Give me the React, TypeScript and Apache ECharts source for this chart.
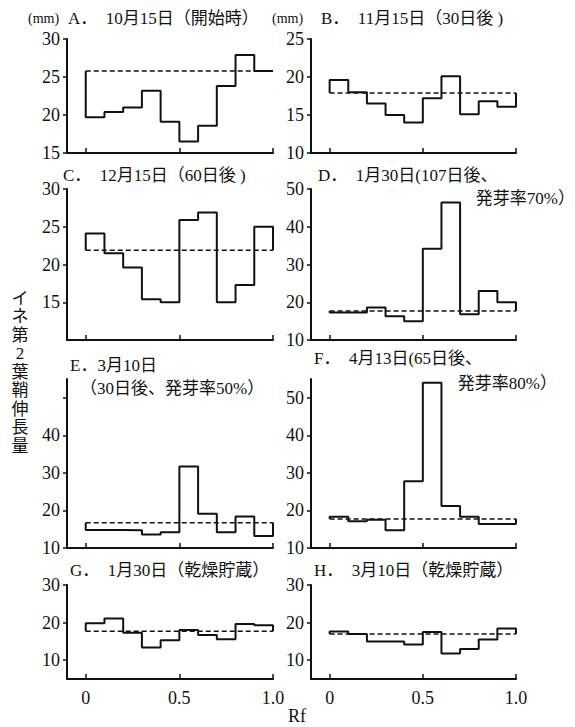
import React, { useEffect, useRef } from "react";
import * as echarts from "echarts";

// Rf bin edges (10 bins of 0.1)
const rfEdges = [0, 0.1, 0.2, 0.3, 0.4, 0.5, 0.6, 0.7, 0.8, 0.9, 1.0];
const rfTicks = [0, 0.5, 1.0];
const rfTickLabels = ["0", "0.5", "1.0"];

// Panel values (mm) per Rf bin, and control (dashed) level
const valuesA = [19.7, 20.4, 21.0, 23.2, 19.1, 16.5, 18.6, 23.8, 27.9, 25.8];
const controlA = 25.8;
const valuesB = [19.6, 18.0, 16.5, 15.0, 14.0, 17.2, 20.1, 15.1, 16.8, 16.1];
const controlB = 17.9;
const valuesC = [24.1, 21.5, 19.6, 15.4, 15.0, 25.9, 26.9, 15.0, 17.3, 25.0];
const controlC = 21.9;
const valuesD = [17.3, 17.3, 18.6, 16.3, 15.0, 34.2, 46.4, 16.8, 23.0, 20.0];
const controlD = 17.7;
const valuesE = [14.8, 14.8, 14.7, 13.6, 14.2, 31.7, 19.1, 14.2, 18.4, 13.2];
const controlE = 16.7;
const valuesF = [18.3, 17.1, 17.5, 14.7, 27.8, 54.0, 21.2, 18.3, 16.4, 16.4];
const controlF = 17.7;
const valuesG = [19.8, 21.1, 17.3, 13.4, 15.3, 18.0, 16.7, 15.6, 19.6, 19.3];
const controlG = 17.7;
const valuesH = [17.6, 17.0, 15.0, 15.0, 14.2, 17.5, 11.8, 13.0, 15.5, 18.4];
const controlH = 17.0;

// Y axis ranges, ticks and tick labels
const yRangeA = [15, 30];
const yTicksA = [15, 20, 25, 30];
const yLabelsA = [15, 20, 25, 30];
const yRangeB = [10, 25];
const yTicksB = [10, 15, 20, 25];
const yLabelsB = [10, 15, 20, 25];
const yRangeC = [10, 30];
const yTicksC = [15, 20, 25, 30];
const yLabelsC = [15, 20, 25, 30];
const yRangeD = [10, 50];
const yTicksD = [10, 20, 30, 40, 50];
const yLabelsD = [10, 20, 30, 40, 50];
const yRangeE = [10, 55];
const yTicksE = [10, 20, 30, 40, 50];
const yLabelsE = [10, 20, 30, 40];
const yRangeF = [10, 55];
const yTicksF = [10, 20, 30, 40, 50];
const yLabelsF = [10, 20, 30, 40, 50];
const yRangeG = [5, 30];
const yTicksG = [10, 20, 30];
const yLabelsG = [10, 20, 30];
const yRangeH = [5, 30];
const yTicksH = [10, 20, 30];
const yLabelsH = [10, 20, 30];

const NB = "\u00a0";
const titleA = `A．${NB}${NB}10月15日（開始時）`;
const titleB = `B．${NB}${NB}11月15日（30日後${NB})`;
const titleC = `C．${NB}${NB}12月15日（60日後${NB})`;
const titleD1 = `D．${NB}${NB}1月30日(107日後、`;
const titleD2 = "発芽率70%）";
const titleE1 = "E．3月10日";
const titleE2 = "（30日後、発芽率50%）";
const titleF1 = `F．${NB}${NB}4月13日(65日後、`;
const titleF2 = "発芽率80%）";
const titleG = `G．${NB}${NB}1月30日（乾燥貯蔵）`;
const titleH = `H．${NB}${NB}3月10日（乾燥貯蔵）`;
const unitLabel = "(mm)";
const yAxisTitle = "イネ第2葉鞘伸長量";
const xAxisTitle = "Rf";

const FONT = "Liberation Serif, Times New Roman, DejaVu Serif, Noto Sans CJK JP, serif";
const INK = "#111";

function stepPoints(values: number[], control: number) {
  const pts: number[][] = [[rfEdges[0], control]];
  values.forEach((v, i) => {
    pts.push([rfEdges[i], v]);
    pts.push([rfEdges[i + 1], v]);
  });
  pts.push([rfEdges[rfEdges.length - 1], control]);
  return pts;
}

export default function App() {
  const ref = useRef<HTMLDivElement>(null);
  useEffect(() => {
    if (!ref.current) return;
    const chart = echarts.init(ref.current, undefined, { renderer: "svg" });

    const panels = [
      { v: valuesA, c: controlA, r: yRangeA, t: yTicksA, l: yLabelsA },
      { v: valuesB, c: controlB, r: yRangeB, t: yTicksB, l: yLabelsB },
      { v: valuesC, c: controlC, r: yRangeC, t: yTicksC, l: yLabelsC },
      { v: valuesD, c: controlD, r: yRangeD, t: yTicksD, l: yLabelsD },
      { v: valuesE, c: controlE, r: yRangeE, t: yTicksE, l: yLabelsE },
      { v: valuesF, c: controlF, r: yRangeF, t: yTicksF, l: yLabelsF },
      { v: valuesG, c: controlG, r: yRangeG, t: yTicksG, l: yLabelsG },
      { v: valuesH, c: controlH, r: yRangeH, t: yTicksH, l: yLabelsH },
    ];
    const colLeft = [67, 311];
    const colWidth = [206, 205];
    const rowTop = [39, 189, 379, 585];
    const rowHeight = [114, 151, 169, 94];

    const grid: any[] = [];
    const xAxis: any[] = [];
    const yAxis: any[] = [];
    const series: any[] = [];
    panels.forEach((p, i) => {
      const col = i % 2;
      const row = Math.floor(i / 2);
      grid.push({
        left: colLeft[col],
        top: rowTop[row],
        width: colWidth[col],
        height: rowHeight[row],
        containLabel: false,
      });
      xAxis.push({
        type: "value",
        gridIndex: i,
        min: -0.1,
        max: 1.0,
        axisLine: { show: true, onZero: false, lineStyle: { color: INK, width: 2 } },
        axisTick: { show: true, inside: true, length: 5, customValues: rfTicks, lineStyle: { color: INK, width: 1.5 } },
        axisLabel: {
          show: row === 3,
          customValues: rfTicks,
          margin: 10,
          formatter: (val: number) => rfTickLabels[rfTicks.indexOf(val)] ?? "",
          fontFamily: FONT,
          fontSize: 18,
          color: INK,
        },
        splitLine: { show: false },
      });
      yAxis.push({
        type: "value",
        gridIndex: i,
        min: p.r[0],
        max: p.r[1],
        axisLine: { show: true, onZero: false, lineStyle: { color: INK, width: 2 } },
        axisTick: { show: true, inside: false, length: 4, customValues: p.t, lineStyle: { color: INK, width: 1.5 } },
        axisLabel: {
          show: true,
          customValues: p.l,
          margin: 7,
          fontFamily: FONT,
          fontSize: 18,
          color: INK,
        },
        splitLine: { show: false },
      });
      series.push({
        type: "line",
        xAxisIndex: i,
        yAxisIndex: i,
        data: [[0, p.c], [1.0, p.c]],
        symbol: "none",
        lineStyle: { color: INK, width: 1.5, type: [5, 3] },
        z: 2,
      });
      series.push({
        type: "line",
        xAxisIndex: i,
        yAxisIndex: i,
        data: stepPoints(p.v, p.c),
        symbol: "none",
        lineStyle: { color: INK, width: 2 },
        z: 3,
      });
    });

    const txt = (text: string, x: number, y: number, size: number, align = "left", extra: any = {}) => ({
      type: "text",
      x,
      y,
      style: {
        text,
        fontFamily: FONT,
        fontSize: size,
        fill: INK,
        align,
        verticalAlign: "middle",
        ...extra,
      },
    });

    const graphic = [
      txt(unitLabel, 28, 18, 14),
      txt(titleA, 68, 18, 17),
      txt(unitLabel, 272, 18, 14),
      txt(titleB, 321, 18, 17),
      txt(titleC, 63, 175, 17),
      txt(titleD1, 318, 175, 17),
      txt(titleD2, 575, 198, 17, "right"),
      txt(titleE1, 70, 365, 17),
      txt(titleE2, 80, 388, 17),
      txt(titleF1, 314, 358, 17),
      txt(titleF2, 557, 383, 17, "right"),
      txt(titleG, 70, 570, 17),
      txt(titleH, 314, 570, 17),
      {
        type: "text",
        x: 20,
        y: 289,
        style: {
          text: yAxisTitle.split("").join("\n"),
          fontFamily: FONT,
          fontSize: 17,
          lineHeight: 18.5,
          fill: INK,
          align: "center",
          verticalAlign: "top",
        },
      },
      txt(xAxisTitle, 297, 716, 18, "center"),
    ];

    chart.setOption({
      animation: false,
      backgroundColor: "#fff",
      grid,
      xAxis,
      yAxis,
      series,
      graphic,
    });
    return () => chart.dispose();
  }, []);

  return (
    <div
      ref={ref}
      style={{ position: "fixed", left: 0, top: 0, width: 575, height: 727, background: "#fff" }}
    />
  );
}
